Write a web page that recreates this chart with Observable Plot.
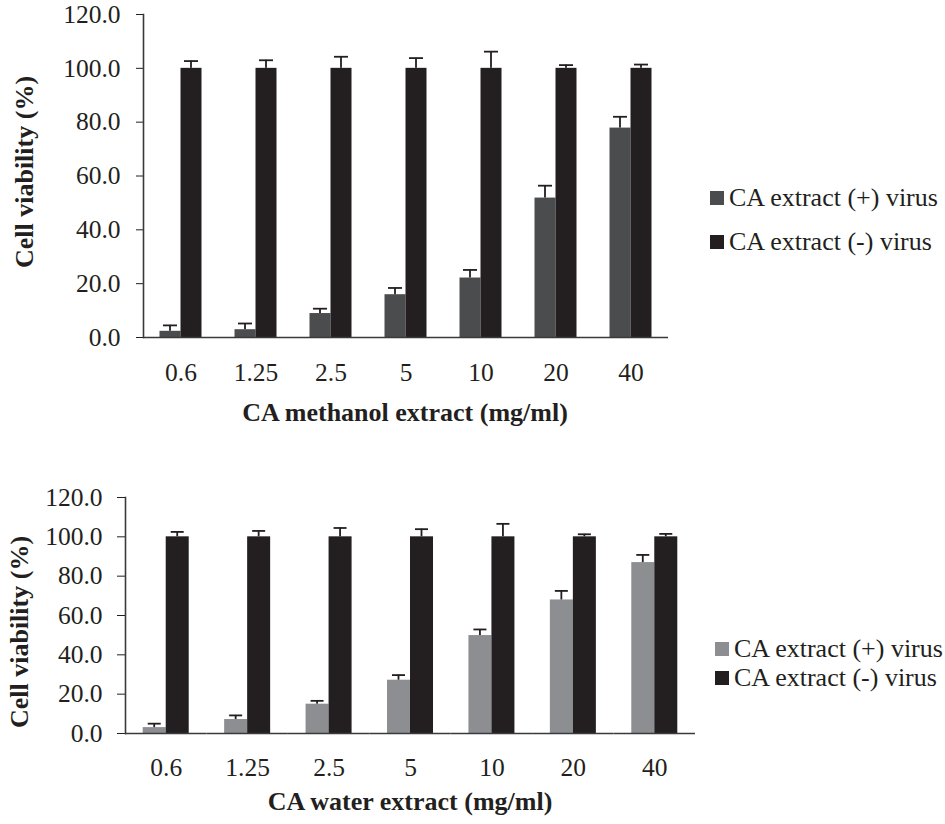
<!DOCTYPE html>
<html>
<head>
<meta charset="utf-8">
<script src="https://cdn.jsdelivr.net/npm/d3@7"></script>
<script src="https://cdn.jsdelivr.net/npm/@observablehq/plot@0.6"></script>
<style>
  html, body { margin: 0; padding: 0; background: #fff; }
  #root { position: relative; width: 945px; height: 824px; font-family: "Liberation Serif", "Times New Roman", serif; color: #231f20; }
  .chart { position: absolute; left: 0; }
  .xtitle, .ytitle { position: absolute; font-weight: bold; font-size: 26px; white-space: nowrap; line-height: 1; }
  .xtitle { transform: translate(-50%, -50%); }
  .ytitle { transform: translate(-50%, -50%) rotate(-90deg); }
  .legrow { position: absolute; font-size: 26px; line-height: 26px; white-space: nowrap; }
  .legrow .sw { position: absolute; left: 0; top: 6px; width: 14px; height: 14px; }
  .legrow .lt { position: absolute; left: 19px; top: 0; }
</style>
</head>
<body>
<div id="root"></div>
<script>
// ---------- data ----------
const concentrations = ["0.6", "1.25", "2.5", "5", "10", "20", "40"];
const seriesKeys = ["plus", "minus"];
const seriesNames = ["CA extract (+) virus", "CA extract (-) virus"];
const yTicks = [0, 20, 40, 60, 80, 100, 120];

// CA methanol extract
const methanolPlus    = [2.3, 2.9, 8.9, 15.9, 22.1, 51.8, 77.8];
const methanolPlusErr = [2.2, 2.3, 1.8, 2.5, 3.0, 4.6, 4.2];
const methanolMinus    = [100, 100, 100, 100, 100, 100, 100];
const methanolMinusErr = [2.7, 3.0, 4.3, 3.8, 6.2, 1.2, 1.4];

// CA water extract
const waterPlus    = [3.0, 7.1, 14.9, 27.1, 49.8, 67.9, 86.9];
const waterPlusErr = [2.0, 2.1, 1.7, 2.6, 3.1, 4.6, 3.9];
const waterMinus    = [100, 100, 100, 100, 100, 100, 100];
const waterMinusErr = [2.5, 3.0, 4.5, 3.9, 6.6, 1.3, 1.5];

const xTitles = ["CA methanol extract (mg/ml)", "CA water extract (mg/ml)"];
const yTitle = "Cell viability (%)";

// ---------- drawing ----------
const ink = "#231f20";
const axisInk = "#3a3a3c";

function rowsFor(plus, plusErr, minus, minusErr) {
  const rows = [];
  concentrations.forEach((c, i) => {
    rows.push({conc: c, series: "plus", value: plus[i], err: plusErr[i]});
    rows.push({conc: c, series: "minus", value: minus[i], err: minusErr[i]});
  });
  return rows;
}

function makeChart(cfg) {
  const rows = rowsFor(cfg.plus, cfg.plusErr, cfg.minus, cfg.minusErr);
  const bw = cfg.barWidth;
  const stemInset = (bw - 1.8) / 2;
  const capInset = (bw - cfg.capWidth) / 2;
  return Plot.plot({
    width: cfg.width,
    height: cfg.height,
    marginLeft: cfg.marginLeft,
    marginRight: cfg.marginRight,
    marginTop: cfg.marginTop,
    marginBottom: cfg.marginBottom,
    style: {fontFamily: '"Liberation Serif", "Times New Roman", serif', fontSize: "25.5px", color: ink, background: "transparent", overflow: "visible"},
    fx: {domain: concentrations, padding: 0, round: false, label: null, axis: "bottom", tickSize: 0, tickPadding: cfg.xTickPadding},
    x: {domain: seriesKeys, paddingInner: 0, paddingOuter: cfg.xPaddingOuter, round: false, axis: null},
    y: {domain: [0, 120], ticks: yTicks, tickFormat: d => d.toFixed(1), tickSize: cfg.yTickSize, tickPadding: cfg.yTickPadding, label: null},
    color: {domain: seriesKeys, range: [cfg.plusColor, ink]},
    marks: [
      Plot.barY(rows, {fx: "conc", x: "series", y: "value", fill: "series"}),
      Plot.barY(rows, {fx: "conc", x: "series", y1: "value", y2: d => d.value + d.err, fill: ink, insetLeft: stemInset, insetRight: stemInset}),
      Plot.tickY(rows, {fx: "conc", x: "series", y: d => d.value + d.err, stroke: ink, strokeWidth: 1.8, insetLeft: capInset, insetRight: capInset}),
      Plot.ruleY([0], {stroke: axisInk, strokeWidth: 1.6}),
      Plot.frame({anchor: "left", facetAnchor: "left", stroke: axisInk, strokeWidth: 1.6})
    ]
  });
}

const root = document.getElementById("root");

function place(cfg) {
  const wrap = document.createElement("div");
  wrap.className = "chart";
  wrap.style.top = cfg.top + "px";
  wrap.appendChild(makeChart(cfg));
  root.appendChild(wrap);

  const xt = document.createElement("div");
  xt.className = "xtitle";
  xt.textContent = cfg.xTitle;
  xt.style.left = cfg.xTitlePos[0] + "px";
  xt.style.top = cfg.xTitlePos[1] + "px";
  root.appendChild(xt);

  const yt = document.createElement("div");
  yt.className = "ytitle";
  yt.textContent = yTitle;
  yt.style.left = cfg.yTitlePos[0] + "px";
  yt.style.top = cfg.yTitlePos[1] + "px";
  root.appendChild(yt);

  const colors = [cfg.plusColor, ink];
  seriesNames.forEach((name, i) => {
    const row = document.createElement("div");
    row.className = "legrow";
    row.style.left = cfg.legendLeft + "px";
    row.style.top = cfg.legendTops[i] + "px";
    const sw = document.createElement("span");
    sw.className = "sw";
    sw.style.background = colors[i];
    const lt = document.createElement("span");
    lt.className = "lt";
    lt.textContent = name;
    row.appendChild(sw);
    row.appendChild(lt);
    root.appendChild(row);
  });
}

place({
  top: 0, width: 700, height: 400,
  marginLeft: 143, marginRight: 32, marginTop: 14, marginBottom: 63,
  barWidth: 21, xPaddingOuter: 0.7857, capWidth: 14,
  xTickPadding: 25, yTickSize: 7, yTickPadding: 16,
  plus: methanolPlus, plusErr: methanolPlusErr, minus: methanolMinus, minusErr: methanolMinusErr,
  plusColor: "#4b4c4e",
  xTitle: xTitles[0], xTitlePos: [405, 413],
  yTitlePos: [25, 172],
  legendLeft: 710, legendTops: [185, 229]
});

place({
  top: 480, width: 720, height: 310,
  marginLeft: 125, marginRight: 25, marginTop: 17, marginBottom: 57,
  barWidth: 23, xPaddingOuter: 0.77, capWidth: 13,
  xTickPadding: 24, yTickSize: 8, yTickPadding: 15,
  plus: waterPlus, plusErr: waterPlusErr, minus: waterMinus, minusErr: waterMinusErr,
  plusColor: "#8d8e92",
  xTitle: xTitles[1], xTitlePos: [410, 802],
  yTitlePos: [20, 632],
  legendLeft: 715, legendTops: [636, 665]
});
</script>
</body>
</html>
